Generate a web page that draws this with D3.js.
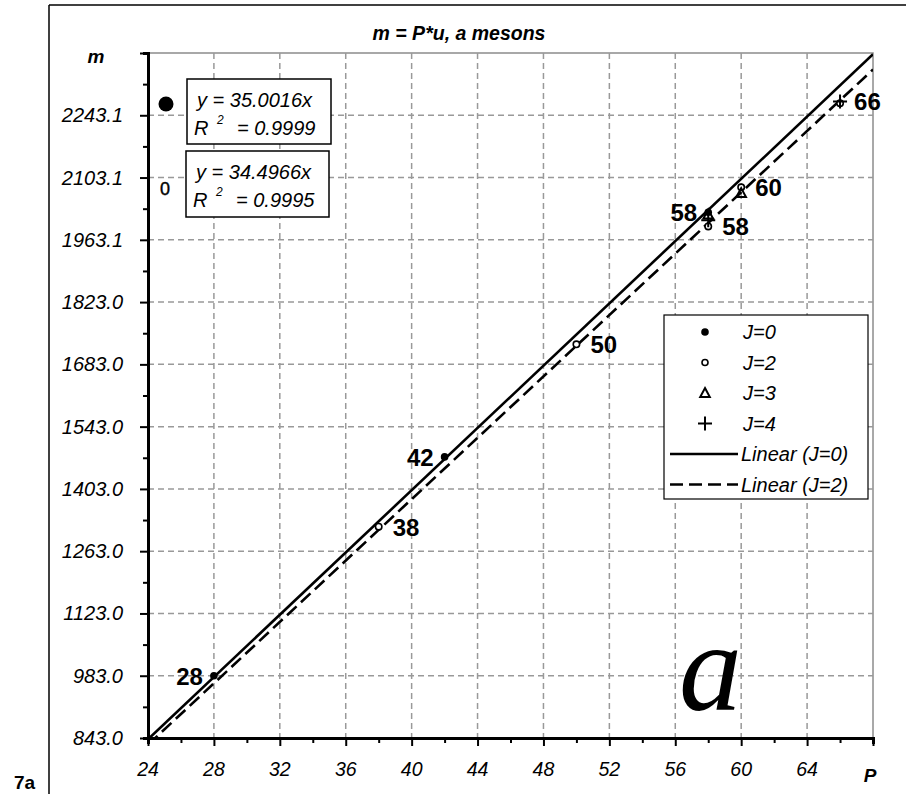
<!DOCTYPE html>
<html>
<head>
<meta charset="utf-8">
<script src="https://cdn.jsdelivr.net/npm/d3@7"></script>
<style>
  html, body { margin: 0; padding: 0; background: #fff; }
  svg { display: block; font-family: "Liberation Sans", Arial, sans-serif; }
</style>
</head>
<body>
<svg id="chart" width="906" height="794"></svg>
<script>
// ---- data -------------------------------------------------------------
const xTicks = [24, 28, 32, 36, 40, 44, 48, 52, 56, 60, 64];
const yTickValues = [843, 983, 1123, 1263, 1403, 1543, 1683, 1823, 1963, 2103, 2243];
const yTickLabels = ["843.0", "983.0", "1123.0", "1263.0", "1403.0", "1543.0",
                     "1683.0", "1823.0", "1963.1", "2103.1", "2243.1"];

// J=0 (filled dots)
const j0P = [28, 42, 58];
const j0M = [983, 1475, 2025];
// J=2 (open circles)
const j2P = [38, 50, 58, 60, 66];
const j2M = [1318, 1728, 1993, 2081, 2270];
// J=3 (triangles)
const j3P = [58, 60];
const j3M = [2020, 2068];
// J=4 (crosses)
const j4P = [58, 66];
const j4M = [2007, 2274];

// fitted slopes (lines through the origin)
const slopeJ0 = 35.0016, r2J0 = 0.9999;
const slopeJ2 = 34.4966, r2J2 = 0.9995;

// point labels: P value, mass, side
const pointLabels = [
  { p: 28, m: 983,  text: "28", side: "left" },
  { p: 42, m: 1475, text: "42", side: "left" },
  { p: 58, m: 2025, text: "58", side: "left" },
  { p: 38, m: 1318, text: "38", side: "right" },
  { p: 50, m: 1728, text: "50", side: "right" },
  { p: 58, m: 1993, text: "58", side: "right" },
  { p: 60, m: 2081, text: "60", side: "right" },
  { p: 66, m: 2274, text: "66", side: "right" }
];

// ---- layout -----------------------------------------------------------
const svg = d3.select("#chart");
const plot = { left: 148, right: 873, top: 53, bottom: 738 };

const x = d3.scaleLinear().domain([24, 68]).range([plot.left, plot.right]);
const y = d3.scaleLinear().domain([843, 2383]).range([plot.bottom, plot.top]);

// outer frame
svg.append("line").attr("x1", 49).attr("x2", 49).attr("y1", 5).attr("y2", 794)
  .attr("stroke", "#000").attr("stroke-width", 1.5);
svg.append("line").attr("x1", 49).attr("x2", 906).attr("y1", 5).attr("y2", 5)
  .attr("stroke", "#000").attr("stroke-width", 1.5);

// plot background + gray frame
svg.append("rect").attr("x", plot.left).attr("y", plot.top)
  .attr("width", plot.right - plot.left).attr("height", plot.bottom - plot.top)
  .attr("fill", "#fff").attr("stroke", "#8c8c8c").attr("stroke-width", 1.5);

// grid
const grid = svg.append("g").attr("stroke", "#999").attr("stroke-width", 1.5)
  .attr("stroke-dasharray", "6,4");
grid.selectAll(".gx").data(xTicks.slice(1)).join("line")
  .attr("x1", d => x(d)).attr("x2", d => x(d))
  .attr("y1", plot.top).attr("y2", plot.bottom);
grid.selectAll(".gy").data(yTickValues.slice(1)).join("line")
  .attr("x1", plot.left).attr("x2", plot.right)
  .attr("y1", d => y(d)).attr("y2", d => y(d));

// clip for trend lines
svg.append("clipPath").attr("id", "plotClip").append("rect")
  .attr("x", plot.left).attr("y", plot.top)
  .attr("width", plot.right - plot.left).attr("height", plot.bottom - plot.top);

const line = d3.line().x(d => x(d[0])).y(d => y(d[1]));
const xr = x.domain();
const lines = svg.append("g").attr("clip-path", "url(#plotClip)");
lines.append("path")
  .attr("d", line([[xr[0], slopeJ0 * xr[0]], [xr[1], slopeJ0 * xr[1]]]))
  .attr("fill", "none").attr("stroke", "#000").attr("stroke-width", 2.6);
lines.append("path")
  .attr("d", line([[xr[0], slopeJ2 * xr[0]], [xr[1], slopeJ2 * xr[1]]]))
  .attr("fill", "none").attr("stroke", "#000").attr("stroke-width", 2.6)
  .attr("stroke-dasharray", "13,6");

// axes
const minorX = d3.range(24, 69, 2);
const minorY = d3.range(843, 2384, 70);
const xAxis = d3.axisBottom(x).tickValues(minorX).tickSize(6).tickFormat("");
const yAxis = d3.axisLeft(y).tickValues(minorY).tickSize(5).tickFormat("");
const gx = svg.append("g").attr("transform", `translate(0,${plot.bottom})`).call(xAxis);
const gy = svg.append("g").attr("transform", `translate(${plot.left},0)`).call(yAxis);
[gx, gy].forEach(g => {
  g.select(".domain").attr("stroke", "#000").attr("stroke-width", 3);
  g.selectAll(".tick line").attr("stroke", "#000").attr("stroke-width", 2);
});
gx.selectAll(".tick line").attr("y2", d => (d % 4 === 0 ? 8 : 5));
gy.selectAll(".tick line").attr("x2", d => ((d - 843) % 140 === 0 ? -8 : -5));

// tick labels
svg.append("g").selectAll("text").data(xTicks).join("text")
  .attr("x", d => x(d)).attr("y", 776)
  .attr("text-anchor", "middle").attr("font-size", 19.5).attr("font-style", "italic")
  .text(d => d);
svg.append("g").selectAll("text").data(yTickValues).join("text")
  .attr("x", 123).attr("y", d => y(d) + 7)
  .attr("text-anchor", "end").attr("font-size", 20).attr("font-style", "italic")
  .text((d, i) => yTickLabels[i]);

// axis titles and headline
svg.append("text").attr("x", 96).attr("y", 63).attr("text-anchor", "middle")
  .attr("font-size", 19).attr("font-weight", "bold").attr("font-style", "italic").text("m");
svg.append("text").attr("x", 870).attr("y", 782).attr("text-anchor", "middle")
  .attr("font-size", 19).attr("font-weight", "bold").attr("font-style", "italic").text("P");
svg.append("text").attr("x", 459).attr("y", 40).attr("text-anchor", "middle")
  .attr("font-size", 19.5).attr("font-weight", "bold").attr("font-style", "italic")
  .text("m = P*u, a mesons");
svg.append("text").attr("x", 14).attr("y", 789)
  .attr("font-size", 19).attr("font-weight", "bold").text("7a");
svg.append("text").attr("x", 679).attr("y", 710)
  .attr("font-family", "'Liberation Serif', 'Times New Roman', serif")
  .attr("font-size", 126).attr("font-style", "italic").text("a");

// ---- markers ----------------------------------------------------------
const zip = (a, b) => a.map((v, i) => [v, b[i]]);
const marks = svg.append("g");
marks.selectAll(".j2").data(zip(j2P, j2M)).join("circle")
  .attr("cx", d => x(d[0])).attr("cy", d => y(d[1])).attr("r", 3.2)
  .attr("fill", "#fff").attr("stroke", "#000").attr("stroke-width", 1.6);
marks.selectAll(".j3").data(zip(j3P, j3M)).join("path")
  .attr("transform", d => `translate(${x(d[0])},${y(d[1])})`)
  .attr("d", "M0,-5L4.8,4L-4.8,4Z")
  .attr("fill", "none").attr("stroke", "#000").attr("stroke-width", 2);
marks.selectAll(".j4").data(zip(j4P, j4M)).join("path")
  .attr("transform", d => `translate(${x(d[0])},${y(d[1])})`)
  .attr("d", "M-7,0H7M0,-7V7")
  .attr("fill", "none").attr("stroke", "#000").attr("stroke-width", 2);
marks.selectAll(".j0").data(zip(j0P, j0M)).join("circle")
  .attr("cx", d => x(d[0])).attr("cy", d => y(d[1])).attr("r", 3.8)
  .attr("fill", "#000");

// point labels
svg.append("g").selectAll("text").data(pointLabels).join("text")
  .attr("x", d => d.side === "left" ? x(d.p) - 11 : x(d.p) + 14)
  .attr("y", d => y(d.m) + 9)
  .attr("text-anchor", d => d.side === "left" ? "end" : "start")
  .attr("font-size", 24).attr("font-weight", "bold")
  .text(d => d.text);

// ---- fit annotations (top-left) ----------------------------------------
svg.append("circle").attr("cx", 166).attr("cy", 104).attr("r", 7.5).attr("fill", "#000");
svg.append("text").attr("x", 165).attr("y", 195).attr("text-anchor", "middle")
  .attr("font-size", 18).attr("stroke", "#000").attr("stroke-width", 0.4).text("0");

function fitBox(bx, by, bw, bh, slope, r2) {
  const g = svg.append("g");
  g.append("rect").attr("x", bx).attr("y", by).attr("width", bw).attr("height", bh)
    .attr("fill", "#fff").attr("stroke", "#000").attr("stroke-width", 1.5);
  g.append("text").attr("x", bx + 10).attr("y", by + 28)
    .attr("font-size", 20).attr("font-style", "italic")
    .text(`y = ${d3.format(".4f")(slope)}x`);
  g.append("text").attr("x", bx + 7).attr("y", by + 56)
    .attr("font-size", 20).attr("font-style", "italic").text("R");
  g.append("text").attr("x", bx + 30).attr("y", by + 45)
    .attr("font-size", 12).attr("font-style", "italic").text("2");
  g.append("text").attr("x", bx + 50).attr("y", by + 56)
    .attr("font-size", 20).attr("font-style", "italic")
    .text(`= ${d3.format(".4f")(r2)}`);
}
fitBox(187, 79, 144, 65, slopeJ0, r2J0);
fitBox(186, 151, 143, 66, slopeJ2, r2J2);

// ---- legend -----------------------------------------------------------
const lg = svg.append("g");
lg.append("rect").attr("x", 664).attr("y", 315).attr("width", 204).attr("height", 184)
  .attr("fill", "#fff").attr("stroke", "#000").attr("stroke-width", 1.2);
const legendItems = ["J=0", "J=2", "J=3", "J=4", "Linear (J=0)", "Linear (J=2)"];
const legendY = i => 332 + i * 30.5;
const symX = 705;
lg.append("circle").attr("cx", symX).attr("cy", legendY(0)).attr("r", 3.8).attr("fill", "#000");
lg.append("circle").attr("cx", symX).attr("cy", legendY(1)).attr("r", 3)
  .attr("fill", "#fff").attr("stroke", "#000").attr("stroke-width", 1.6);
lg.append("path").attr("transform", `translate(${symX},${legendY(2)})`)
  .attr("d", "M0,-5L4.8,4L-4.8,4Z").attr("fill", "none").attr("stroke", "#000").attr("stroke-width", 2);
lg.append("path").attr("transform", `translate(${symX},${legendY(3)})`)
  .attr("d", "M-7,0H7M0,-7V7").attr("fill", "none").attr("stroke", "#000").attr("stroke-width", 2);
lg.append("line").attr("x1", 670).attr("x2", 738).attr("y1", legendY(4)).attr("y2", legendY(4))
  .attr("stroke", "#000").attr("stroke-width", 2.5);
lg.append("line").attr("x1", 670).attr("x2", 738).attr("y1", legendY(5)).attr("y2", legendY(5))
  .attr("stroke", "#000").attr("stroke-width", 2.5).attr("stroke-dasharray", "13,6");
lg.selectAll(".lt").data(legendItems).join("text")
  .attr("x", (d, i) => i < 4 ? 743 : 741).attr("y", (d, i) => legendY(i) + 7)
  .attr("font-size", 20).attr("font-style", "italic").text(d => d);
</script>
</body>
</html>
